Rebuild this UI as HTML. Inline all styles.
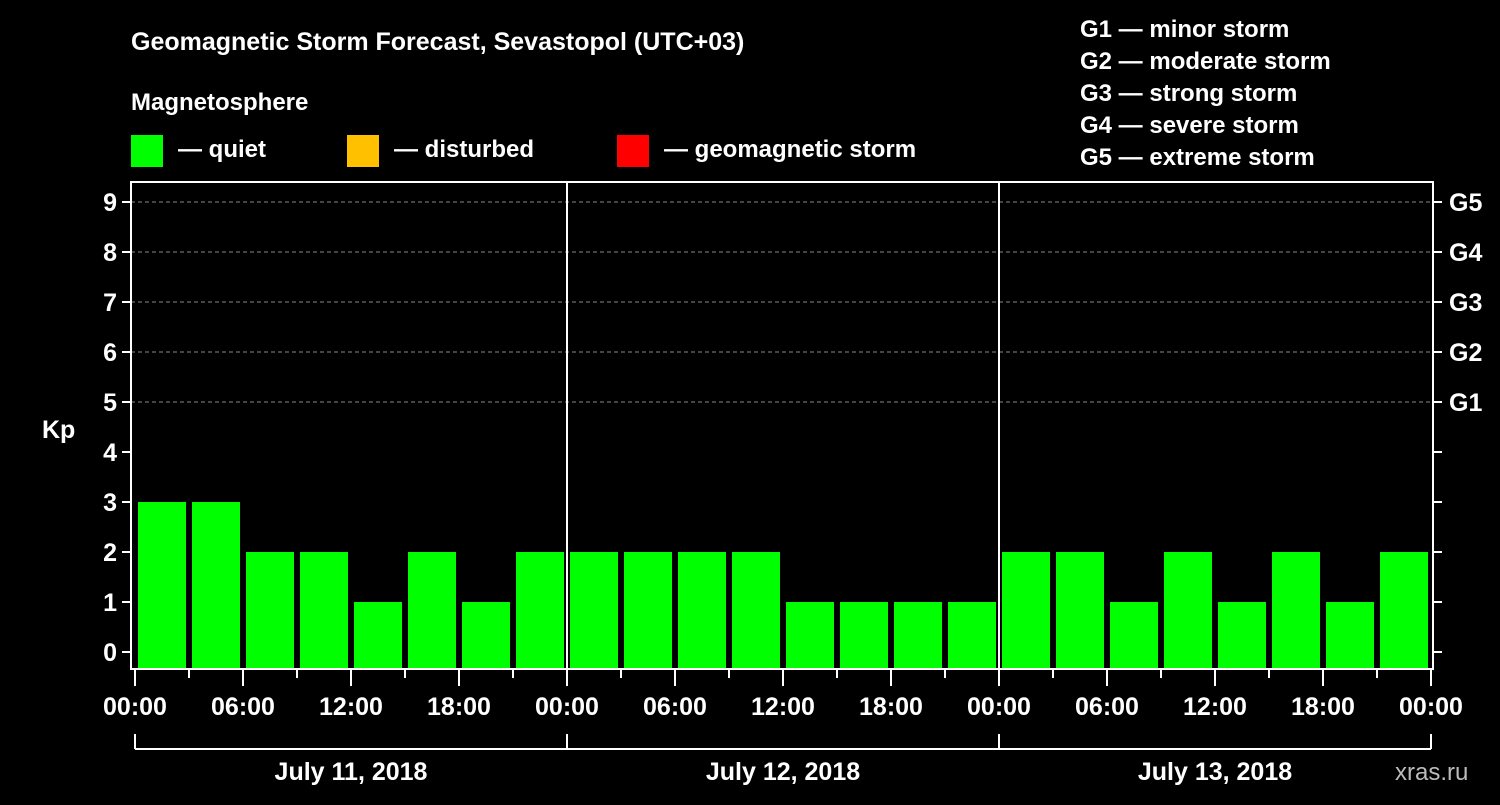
<!DOCTYPE html>
<html><head><meta charset="utf-8"><style>
body{margin:0;background:#000;width:1500px;height:800px;overflow:hidden;font-family:"Liberation Sans",Arial,sans-serif}
svg text{font-family:"Liberation Sans",Arial,sans-serif;font-weight:bold;fill:#fff}
</style></head><body>
<svg id="c" width="1500" height="800">
<text x="131" y="50" font-size="25">Geomagnetic Storm Forecast, Sevastopol (UTC+03)</text>
<text x="131" y="110" font-size="24">Magnetosphere</text>
<rect x="131" y="135" width="32" height="32" fill="#00ff00"/>
<text x="178" y="157" font-size="24">— quiet</text>
<rect x="347" y="135" width="32" height="32" fill="#ffc000"/>
<text x="394" y="157" font-size="24">— disturbed</text>
<rect x="617" y="135" width="32" height="32" fill="#ff0000"/>
<text x="664" y="157" font-size="24">— geomagnetic storm</text>
<g font-size="24">
<text x="1080" y="37">G1 — minor storm</text>
<text x="1080" y="69">G2 — moderate storm</text>
<text x="1080" y="101">G3 — strong storm</text>
<text x="1080" y="133">G4 — severe storm</text>
<text x="1080" y="165">G5 — extreme storm</text>
</g>
<text x="42" y="438" font-size="25">Kp</text>
<text x="1395" y="780" font-size="24" fill="#bbb" style="fill:#bbb;font-weight:normal">xras.ru</text>
<g id="g"></g>
</svg>
<script>
const days=["July 11, 2018","July 12, 2018","July 13, 2018"];
const kpValues=[3,3,2,2,1,2,1,2, 2,2,2,2,1,1,1,1, 2,2,1,2,1,2,1,2];
const yTicks=[0,1,2,3,4,5,6,7,8,9];
const gLabels=["G1","G2","G3","G4","G5"];
const hourLabels=["00:00","06:00","12:00","18:00"];
const NS="http://www.w3.org/2000/svg";
const g=document.getElementById('g');
const X0=135,DAYW=432,L=131,R=1433,T=182,B=669;
const y=v=>652-50*v;
const xh=h=>X0+h*18;
function mk(t,a,p){const e=document.createElementNS(NS,t);for(const k in a)e.setAttribute(k,a[k]);(p||g).appendChild(e);return e;}
// grid
yTicks.forEach(v=>{
 if(v>=5){const l=mk('line',{x1:L,x2:R,y1:y(v),y2:y(v),stroke:'#888','stroke-dasharray':'4,3','stroke-width':1});
 
 }
 mk('line',{x1:L-9,x2:L,y1:y(v),y2:y(v),stroke:'#fff','stroke-width':2});
 mk('line',{x1:R,x2:R+9,y1:y(v),y2:y(v),stroke:'#fff','stroke-width':2});
 const t=mk('text',{x:L-14,y:y(v)+9,'font-size':25,'text-anchor':'end'});t.textContent=v;
 
 
});
gLabels.forEach((s,i)=>{const t=mk('text',{x:1449,y:y(5+i)+9,'font-size':25});t.textContent=s;
 
 });
// bars
kpValues.forEach((v,i)=>{
 const col=v>=5?'#ff0000':(v>=4?'#ffc000':'#00ff00');
 const r=mk('rect',{x:xh(i*3)+3,y:y(v),width:48,height:B-y(v),fill:col});
 
 
});
// frame
mk('rect',{x:L,y:T,width:R-L,height:B-T,fill:'none',stroke:'#fff','stroke-width':2});
for(let d=1;d<days.length;d++) mk('line',{x1:X0+d*DAYW,x2:X0+d*DAYW,y1:T,y2:B,stroke:'#fff','stroke-width':2});
// x ticks
for(let h=0;h<=72;h+=3){
 const major=h%6===0;
 mk('line',{x1:xh(h),x2:xh(h),y1:B,y2:B+(major?17:9),stroke:'#fff','stroke-width':2});
 if(major){const t=mk('text',{x:xh(h),y:715,'font-size':25,'text-anchor':'middle'});t.textContent=hourLabels[(h/6)%4];
 
 }
}
// day brackets
mk('line',{x1:X0,x2:X0+days.length*DAYW,y1:749,y2:749,stroke:'#fff','stroke-width':2});
for(let d=0;d<=days.length;d++) mk('line',{x1:X0+d*DAYW,x2:X0+d*DAYW,y1:734,y2:749,stroke:'#fff','stroke-width':2});
days.forEach((s,d)=>{const t=mk('text',{x:X0+d*DAYW+DAYW/2,y:780,'font-size':25,'text-anchor':'middle'});t.textContent=s;
 
 });
</script>
</body></html>
